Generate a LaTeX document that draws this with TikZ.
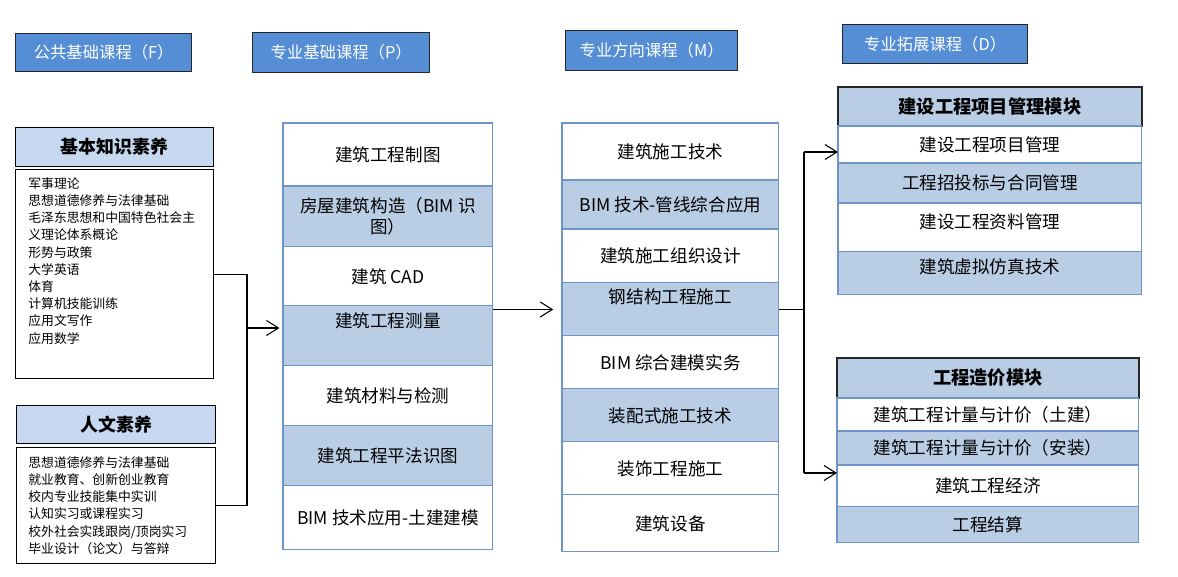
\documentclass[tikz,border=0pt]{standalone}
\usepackage{fontspec}
\setmainfont{Noto Sans CJK SC}
\usetikzlibrary{positioning,arrows.meta}
\definecolor{hdrblue}{HTML}{558ED5}
\definecolor{cellblue}{HTML}{B9CDE5}
\definecolor{headlight}{HTML}{C6D9F1}
\definecolor{cellline}{HTML}{6F95C8}
\tikzset{
  hdr/.style={draw=black!85, line width=0.8pt, fill=hdrblue, text=white,
    font=\fontsize{9.3}{11}\selectfont, inner sep=0pt, anchor=north west},
  lhead/.style={draw=black, line width=0.7pt, fill=headlight, inner sep=0pt,
    anchor=north west, font=\bfseries\fontsize{10.2}{12}\selectfont},
  lbody/.style={draw=black, line width=0.7pt, fill=white, inner sep=0pt, anchor=north west},
  ltext/.style={align=left, inner sep=0pt, anchor=north west,
    font=\fontsize{7.3}{9.8}\selectfont},
  cellw/.style={draw=cellline, line width=0.6pt, fill=white, inner sep=0pt, outer sep=0pt,
    align=center, font=\fontsize{10}{12}\selectfont},
  cellb/.style={cellw, fill=cellblue},
  toptext/.style={anchor=north, font=\fontsize{10}{12}\selectfont},
  modhead/.style={draw=black!85, line width=0.8pt, fill=cellblue, inner sep=0pt, outer sep=0pt,
    anchor=north west, font=\bfseries\fontsize{10.4}{12}\selectfont},
  arr/.style={-{Straight Barb[length=2.4mm,width=3mm]}},
  link/.style={line width=0.6pt},
}
\begin{document}
\begin{tikzpicture}[x=0.02cm, y=-0.02cm, node distance=0pt]
\useasboundingbox (0,0) rectangle (1178,577);
% column titles
\node[hdr, minimum width=3.52cm, minimum height=0.76cm] (hf) at (15,33) {公共基础课程（F）};
\node[hdr, minimum width=3.54cm, minimum height=0.80cm] (hp) at (252,32) {专业基础课程（P）};
\node[hdr, minimum width=3.44cm, minimum height=0.80cm] (hm) at (565,30) {专业方向课程（M）};
\node[hdr, minimum width=3.70cm, minimum height=0.78cm] (hd) at (842,24) {专业拓展课程（D）};

% public basics
\node[lhead, minimum width=3.96cm, minimum height=0.78cm] (lh1) at (15,127) {基本知识素养};
\node[lbody, minimum width=3.96cm, minimum height=4.18cm] (lb1) at (15,169) {};
\node[ltext] (lt1) at (28,177) {军事理论\\思想道德修养与法律基础\\毛泽东思想和中国特色社会主\\义理论体系概论\\形势与政策\\大学英语\\体育\\计算机技能训练\\应用文写作\\应用数学};
\node[lhead, minimum width=3.98cm, minimum height=0.76cm] (lh2) at (16,405) {人文素养};
\node[lbody, minimum width=3.98cm, minimum height=2.32cm] (lb2) at (16,447) {};
\node[ltext] (lt2) at (28,456) {思想道德修养与法律基础\\就业教育、创新创业教育\\校内专业技能集中实训\\认知实习或课程实习\\校外社会实践跟岗/顶岗实习\\毕业设计（论文）与答辩};

% professional basics
\node[cellw, anchor=north west, minimum width=4.2cm, minimum height=1.26cm] (p1) at (283,123) {建筑工程制图};
\node[cellb, below=of p1, minimum width=4.2cm, minimum height=1.22cm] (p2) {房屋建筑构造（BIM 识\\图）};
\node[cellw, below=of p2, minimum width=4.2cm, minimum height=1.18cm] (p3) {建筑 CAD};
\node[cellb, below=of p3, minimum width=4.2cm, minimum height=1.20cm,
  label={[toptext]north:建筑工程测量}] (p4) {};
\node[cellw, below=of p4, minimum width=4.2cm, minimum height=1.20cm] (p5) {建筑材料与检测};
\node[cellb, below=of p5, minimum width=4.2cm, minimum height=1.20cm] (p6) {建筑工程平法识图};
\node[cellw, below=of p6, minimum width=4.2cm, minimum height=1.28cm] (p7) {BIM 技术应用-土建建模};

% professional direction
\node[cellw, anchor=north west, minimum width=4.34cm, minimum height=1.14cm] (m1) at (562,123) {建筑施工技术};
\node[cellb, below=of m1, minimum width=4.34cm, minimum height=0.98cm] (m2) {BIM 技术-管线综合应用};
\node[cellw, below=of m2, minimum width=4.34cm, minimum height=1.08cm] (m3) {建筑施工组织设计};
\node[cellb, below=of m3, minimum width=4.34cm, minimum height=1.06cm,
  label={[toptext]north:钢结构工程施工}] (m4) {};
\node[cellw, below=of m4, minimum width=4.34cm, minimum height=1.06cm] (m5) {BIM 综合建模实务};
\node[cellb, below=of m5, minimum width=4.34cm, minimum height=1.06cm] (m6) {装配式施工技术};
\node[cellw, below=of m6, minimum width=4.34cm, minimum height=1.06cm] (m7) {装饰工程施工};
\node[cellw, below=of m7, minimum width=4.34cm, minimum height=1.14cm] (m8) {建筑设备};

% extension modules
\node[modhead, minimum width=6.08cm, minimum height=0.78cm] (d0) at (838,87) {建设工程项目管理模块};
\node[cellw, below=of d0, minimum width=6.08cm, minimum height=0.74cm] (d1) {建设工程项目管理};
\node[cellb, below=of d1, minimum width=6.08cm, minimum height=0.80cm] (d2) {工程招投标与合同管理};
\node[cellw, below=of d2, minimum width=6.08cm, minimum height=0.98cm,
  label={[toptext, yshift=-0.08cm]north:建设工程资料管理}] (d3) {};
\node[cellb, below=of d3, minimum width=6.08cm, minimum height=0.86cm,
  label={[toptext]north:建筑虚拟仿真技术}] (d4) {};

\node[modhead, minimum width=6.04cm, minimum height=0.80cm] (c0) at (837,358) {工程造价模块};
\node[cellw, below=of c0, minimum width=6.04cm, minimum height=0.66cm] (c1) {建筑工程计量与计价（土建）};
\node[cellb, below=of c1, minimum width=6.04cm, minimum height=0.68cm] (c2) {建筑工程计量与计价（安装）};
\node[cellw, below=of c2, minimum width=6.04cm, minimum height=0.84cm] (c3) {建筑工程经济};
\node[cellb, below=of c3, minimum width=6.04cm, minimum height=0.72cm] (c4) {工程结算};

% connectors
\coordinate (j1) at (247,328);
\draw[link] (lb1.east) -| (j1) |- (lb2.east);
\draw[link, arr, shorten >=2pt] (j1) -- (j1 -| p4.west);
\draw[link, arr, shorten >=5pt] (m4.west -| p4.east) -- (m4.west);
\coordinate (k1) at (804,152);
\coordinate (k2) at (804,473);
\draw[link] (m4.east) -- (m4.east -| k1);
\draw[link] (k1) -- (k2);
\draw[link, arr] (k1) -- (k1 -| d1.west);
\draw[link, arr] (k2) -- (k2 -| c3.west);
\end{tikzpicture}
\end{document}
